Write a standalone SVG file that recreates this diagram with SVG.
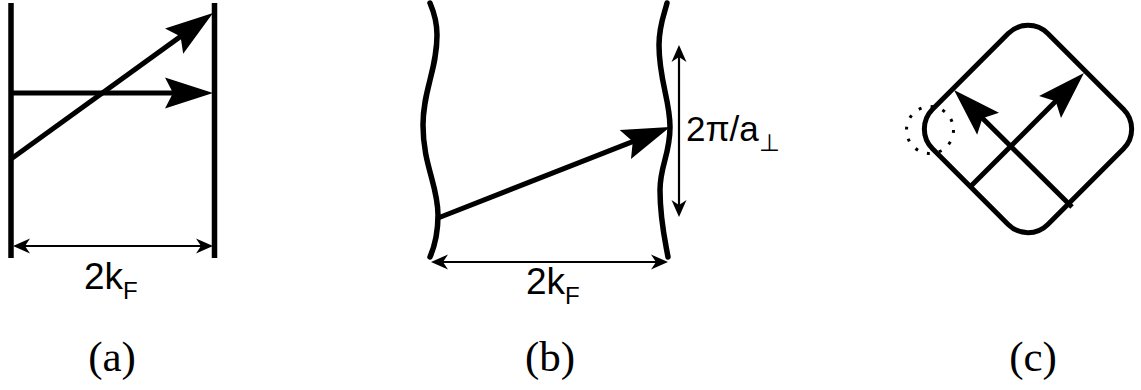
<svg xmlns="http://www.w3.org/2000/svg" width="1141" height="390" viewBox="0 0 1141 390">
  <style>
    .wall { fill: none; stroke: #000; stroke-width: 5.5; stroke-linecap: round; }
    .vec { fill: none; stroke: #000; stroke-width: 5; marker-end: url(#ah); }
    .dim { fill: none; stroke: #000; stroke-width: 2.2; marker-start: url(#dh); marker-end: url(#dh); }
    .lbl { font-family: "Liberation Sans", Arial, sans-serif; fill: #000; }
    .cap { font-family: "Liberation Serif", "Times New Roman", serif; font-size: 43px; fill: #000; text-anchor: middle; }
  </style>
  <defs>
    <marker id="ah" viewBox="-60 -20 70 40" markerWidth="70" markerHeight="40" refX="-10" refY="0" orient="auto" markerUnits="userSpaceOnUse">
      <path d="M0,0 L-48,-15.5 L-40,0 L-48,15.5 Z" fill="#000"/>
    </marker>
    <marker id="dh" viewBox="-25 -10 30 20" markerWidth="30" markerHeight="20" refX="-5" refY="0" orient="auto-start-reverse" markerUnits="userSpaceOnUse">
      <path d="M0,0 L-17,-7.5 L-12,0 L-17,7.5 Z" fill="#000"/>
    </marker>
  </defs>

  <!-- Panel (a) -->
  <g id="panel-a">
    <line class="wall" x1="11" y1="3" x2="11" y2="258" style="stroke-linecap:butt"/>
    <line class="wall" x1="214.5" y1="3" x2="214.5" y2="258" style="stroke-linecap:butt"/>
    <text class="lbl" x="84" y="289" font-size="37">2k<tspan font-size="24" dy="10">F</tspan></text>
  </g>

  <!-- Panel (b) -->
  <g id="panel-b">
    <path class="wall" d="M430,3 C433,10 437,20 437,35 C437,70 423,90 423,125 C423,165 438,185 438,215 C438,235 433,250 430,257"/>
    <path class="wall" d="M667,3 C665,12 659,25 659,45 C659,80 670,100 670,127 C670,155 660,165 660,190 C660,220 665,240 668,257"/>
    <text class="lbl" x="526" y="294" font-size="37">2k<tspan font-size="24" dy="10">F</tspan></text>
    <text class="lbl" x="686" y="141" font-size="35">2π/a<tspan font-size="24" dy="10">⊥</tspan></text>
  </g>

  <!-- Panel (c) -->
  <g id="panel-c">
    <rect x="-81.5" y="-81.5" width="163" height="163" rx="28" ry="28" fill="none" stroke="#000" stroke-width="5" transform="translate(1028,129) rotate(45)"/>
    <circle cx="930" cy="130" r="23.5" fill="none" stroke="#000" stroke-width="3" stroke-dasharray="3 9.3"/>
  </g>

  <!-- Connectors -->
  <g id="connectors">
    <line class="vec" x1="11" y1="93" x2="203" y2="93"/>
    <line class="vec" x1="11" y1="159" x2="204.9" y2="18.9"/>
    <line class="dim" x1="18" y1="246" x2="208" y2="246"/>
    <line class="vec" x1="438" y1="218" x2="660.7" y2="130.65"/>
    <line class="dim" x1="436" y1="262" x2="663" y2="262"/>
    <line class="dim" x1="679" y1="50" x2="679" y2="212"/>
    <line class="vec" x1="970" y1="187" x2="1076.9" y2="80.1"/>
    <line class="vec" x1="1072" y1="207" x2="961.1" y2="97"/>
  </g>

  <!-- Captions -->
  <g id="captions">
    <text class="cap" x="112" y="371">(a)</text>
    <text class="cap" x="550" y="371">(b)</text>
    <text class="cap" x="1033" y="371">(c)</text>
  </g>
</svg>
